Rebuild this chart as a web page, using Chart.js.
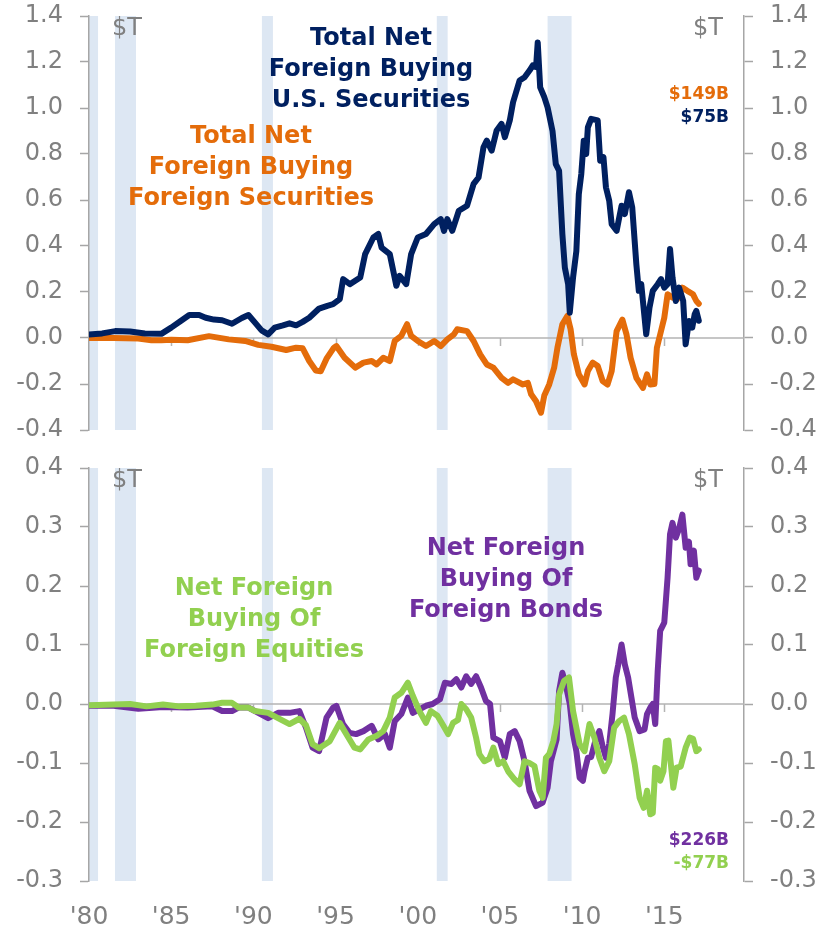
<!DOCTYPE html>
<html>
<head>
<meta charset="utf-8">
<script src="https://cdn.jsdelivr.net/npm/chart.js@4.4.1/dist/chart.umd.min.js"></script>
<style>
  html, body { margin: 0; padding: 0; background: #fff; }
  #wrap { position: relative; width: 823px; height: 927px; overflow: hidden; font-family: "DejaVu Sans", Verdana, sans-serif; }
  .cv { position: absolute; left: 0; }
  .lbl { position: absolute; font-weight: bold; font-size: 24px; line-height: 31px; text-align: center; white-space: nowrap; }
  .val { position: absolute; font-weight: bold; font-size: 17px; line-height: 22.5px; text-align: right; white-space: nowrap; }
  .unit { position: absolute; font-size: 24px; line-height: 24px; color: #808080; white-space: nowrap; }
</style>
</head>
<body>
<div id="wrap">
  <canvas id="top" class="cv" width="823" height="450" style="top:0px;width:823px;height:450px"></canvas>
  <canvas id="bot" class="cv" width="823" height="477" style="top:450px;width:823px;height:477px"></canvas>

  <div class="unit" style="left:112px;top:15px">$T</div>
  <div class="unit" style="right:100px;top:15px">$T</div>
  <div class="unit" style="left:112px;top:467px">$T</div>
  <div class="unit" style="right:100px;top:467px">$T</div>

  <div class="lbl" style="color:#002060;left:221px;width:300px;top:22px">Total Net<br>Foreign Buying<br>U.S. Securities</div>
  <div class="lbl" style="color:#E46C0A;left:101px;width:300px;top:120px">Total Net<br>Foreign Buying<br>Foreign Securities</div>
  <div class="lbl" style="color:#92D050;left:104px;width:300px;top:572px">Net Foreign<br>Buying Of<br>Foreign Equities</div>
  <div class="lbl" style="color:#7030A0;left:356px;width:300px;top:532px">Net Foreign<br>Buying Of<br>Foreign Bonds</div>

  <div class="val" style="right:94px;top:82px"><span style="color:#E46C0A">$149B</span><br><span style="color:#002060">$75B</span></div>
  <div class="val" style="right:94px;top:828px"><span style="color:#7030A0">$226B</span><br><span style="color:#92D050">-$77B</span></div>
</div>
<script>
// ---------------- DATA ----------------
const xTickYears = [1980, 1985, 1990, 1995, 2000, 2005, 2010, 2015];
const xTickLabels = ["'80", "'85", "'90", "'95", "'00", "'05", "'10", "'15"];
const topTicks = [-0.4, -0.2, 0.0, 0.2, 0.4, 0.6, 0.8, 1.0, 1.2, 1.4];
const botTicks = [-0.3, -0.2, -0.1, 0.0, 0.1, 0.2, 0.3, 0.4];
const recessionStarts = [1980.0, 1981.58, 1990.52, 2001.16, 2007.9];
const recessionEnds   = [1980.55, 1982.86, 1991.19, 2001.82, 2009.36];

// Total net foreign buying of U.S. securities ($T)
const usYears = [1980.0,1980.8,1981.6,1982.5,1983.4,1984.4,1985.0,1985.6,1986.1,1986.7,1987.1,1987.6,1988.1,1988.7,1989.3,1989.7,1990.1,1990.5,1990.9,1991.3,1991.8,1992.2,1992.6,1993.0,1993.4,1994.0,1994.5,1994.85,1995.26,1995.46,1995.87,1996.5,1996.8,1997.3,1997.6,1997.8,1998.3,1998.7,1998.9,1999.3,1999.6,2000.0,2000.5,2001.0,2001.4,2001.6,2001.8,2002.1,2002.5,2003.0,2003.4,2003.7,2004.0,2004.2,2004.5,2004.8,2005.1,2005.3,2005.6,2005.8,2006.2,2006.5,2006.8,2007.0,2007.2,2007.3,2007.45,2007.7,2007.9,2008.2,2008.4,2008.6,2008.8,2008.95,2009.15,2009.25,2009.45,2009.65,2009.8,2009.95,2010.1,2010.25,2010.35,2010.55,2010.95,2011.1,2011.3,2011.45,2011.65,2011.8,2012.1,2012.4,2012.6,2012.85,2013.05,2013.3,2013.45,2013.6,2013.9,2014.1,2014.3,2014.6,2014.8,2015.0,2015.2,2015.35,2015.5,2015.7,2015.9,2016.15,2016.3,2016.5,2016.7,2016.85,2016.95,2017.1];
const usValues = [0.015,0.02,0.03,0.028,0.02,0.018,0.045,0.075,0.10,0.10,0.088,0.08,0.077,0.062,0.087,0.10,0.067,0.033,0.016,0.045,0.055,0.064,0.055,0.07,0.088,0.128,0.14,0.147,0.169,0.256,0.234,0.263,0.365,0.437,0.452,0.393,0.365,0.227,0.27,0.234,0.365,0.437,0.452,0.495,0.517,0.466,0.517,0.466,0.553,0.575,0.67,0.698,0.829,0.858,0.815,0.902,0.931,0.873,0.946,1.025,1.12,1.134,1.163,1.185,1.178,1.285,1.09,1.047,1.003,0.90,0.756,0.727,0.451,0.306,0.234,0.11,0.263,0.378,0.626,0.713,0.858,0.80,0.916,0.953,0.946,0.771,0.786,0.655,0.597,0.495,0.466,0.575,0.539,0.634,0.568,0.321,0.205,0.234,0.016,0.132,0.205,0.234,0.256,0.219,0.234,0.387,0.263,0.161,0.219,0.161,-0.027,0.074,0.045,0.103,0.118,0.075];

// Total net foreign buying of foreign securities ($T)
const fsYears = [1980.0,1981.5,1983.0,1983.8,1984.4,1985.0,1986.0,1987.3,1988.5,1989.5,1990.3,1991.1,1992.0,1992.6,1993.0,1993.4,1993.8,1994.1,1994.45,1994.9,1995.05,1995.55,1996.2,1996.7,1997.2,1997.5,1997.9,1998.3,1998.6,1999.0,1999.35,1999.6,2000.0,2000.5,2001.0,2001.4,2001.8,2002.2,2002.4,2003.0,2003.4,2003.8,2004.2,2004.6,2005.1,2005.5,2005.8,2006.4,2006.7,2006.9,2007.2,2007.5,2007.7,2008.0,2008.3,2008.5,2008.8,2009.1,2009.3,2009.5,2009.8,2010.15,2010.35,2010.65,2010.95,2011.25,2011.55,2011.8,2012.1,2012.45,2012.7,2012.95,2013.3,2013.7,2013.95,2014.15,2014.4,2014.55,2014.8,2015.0,2015.2,2015.5,2015.8,2016.1,2016.4,2016.75,2016.95,2017.1];
const fsValues = [0.0,0.0,-0.002,-0.01,-0.01,-0.008,-0.01,0.008,-0.006,-0.013,-0.03,-0.038,-0.052,-0.042,-0.045,-0.10,-0.141,-0.145,-0.09,-0.042,-0.035,-0.086,-0.129,-0.107,-0.10,-0.115,-0.086,-0.10,-0.013,0.009,0.06,0.009,-0.013,-0.035,-0.013,-0.035,-0.006,0.016,0.038,0.03,-0.013,-0.071,-0.115,-0.129,-0.173,-0.195,-0.18,-0.202,-0.195,-0.245,-0.275,-0.325,-0.25,-0.202,-0.129,-0.042,0.06,0.096,0.038,-0.071,-0.158,-0.202,-0.144,-0.107,-0.122,-0.187,-0.202,-0.144,0.03,0.08,0.016,-0.086,-0.173,-0.217,-0.158,-0.202,-0.20,-0.042,0.03,0.088,0.19,0.176,0.17,0.219,0.205,0.19,0.161,0.149];

// Net foreign buying of foreign bonds ($T)
const bondYears = [1980.0,1981.5,1983.0,1984.5,1986.0,1987.5,1988.1,1988.7,1989.1,1989.7,1990.1,1990.9,1991.5,1992.2,1992.8,1993.2,1993.6,1994.0,1994.45,1994.85,1995.05,1995.45,1995.85,1996.25,1996.7,1997.2,1997.6,1998.0,1998.3,1998.6,1999.0,1999.4,1999.7,2000.1,2000.5,2000.9,2001.35,2001.65,2002.05,2002.35,2002.65,2002.95,2003.25,2003.55,2003.85,2004.15,2004.4,2004.6,2005.0,2005.3,2005.6,2005.9,2006.2,2006.5,2006.8,2007.2,2007.6,2007.9,2008.1,2008.45,2008.6,2008.8,2009.0,2009.25,2009.45,2009.65,2009.85,2010.05,2010.15,2010.35,2010.55,2010.75,2011.05,2011.25,2011.45,2011.65,2011.85,2012.05,2012.2,2012.4,2012.6,2012.8,2013.0,2013.2,2013.5,2013.8,2013.95,2014.15,2014.3,2014.45,2014.6,2014.75,2015.0,2015.2,2015.35,2015.5,2015.7,2015.9,2016.1,2016.3,2016.5,2016.6,2016.8,2016.95,2017.1];
const bondValues = [-0.003,-0.003,-0.008,-0.005,-0.006,-0.004,-0.012,-0.012,-0.006,-0.006,-0.012,-0.024,-0.015,-0.015,-0.012,-0.04,-0.074,-0.08,-0.023,-0.006,-0.003,-0.034,-0.049,-0.051,-0.046,-0.037,-0.06,-0.051,-0.074,-0.029,-0.017,0.011,-0.015,-0.009,-0.003,0.0,0.008,0.036,0.034,0.042,0.028,0.047,0.034,0.047,0.028,0.005,0.0,-0.057,-0.063,-0.091,-0.051,-0.046,-0.063,-0.097,-0.147,-0.173,-0.167,-0.142,-0.097,-0.06,0.022,0.053,0.033,0.0,-0.051,-0.08,-0.125,-0.13,-0.114,-0.091,-0.09,-0.068,-0.046,-0.072,-0.091,-0.068,-0.017,0.045,0.067,0.101,0.067,0.045,0.011,-0.023,-0.046,-0.043,-0.017,-0.006,0.0,-0.034,0.056,0.124,0.138,0.214,0.288,0.307,0.282,0.297,0.321,0.265,0.275,0.237,0.26,0.214,0.226];

// Net foreign buying of foreign equities ($T)
const eqYears = [1980.0,1981.5,1982.5,1983.5,1984.5,1985.5,1986.5,1987.5,1988.1,1988.7,1989.1,1989.7,1990.1,1990.9,1991.5,1992.2,1992.8,1993.2,1993.6,1994.0,1994.65,1995.25,1995.65,1996.15,1996.5,1997.0,1997.5,1997.9,1998.3,1998.6,1999.0,1999.4,1999.7,2000.1,2000.5,2000.8,2001.2,2001.5,2001.85,2002.15,2002.45,2002.65,2002.95,2003.25,2003.55,2003.75,2004.05,2004.35,2004.6,2004.9,2005.2,2005.5,2005.9,2006.2,2006.5,2006.8,2007.1,2007.4,2007.6,2007.8,2008.0,2008.25,2008.45,2008.6,2008.9,2009.2,2009.45,2009.65,2009.85,2010.15,2010.45,2010.75,2011.05,2011.35,2011.65,2011.95,2012.25,2012.55,2012.85,2013.2,2013.5,2013.75,2013.95,2014.15,2014.3,2014.45,2014.6,2014.75,2014.95,2015.1,2015.25,2015.4,2015.55,2015.75,2016.0,2016.3,2016.55,2016.75,2016.95,2017.1];
const eqValues = [-0.002,-0.001,0.0,-0.004,-0.001,-0.004,-0.003,-0.001,0.002,0.002,-0.006,-0.006,-0.012,-0.015,-0.024,-0.034,-0.025,-0.036,-0.068,-0.075,-0.063,-0.032,-0.051,-0.074,-0.077,-0.06,-0.054,-0.046,-0.023,0.011,0.019,0.036,0.014,-0.012,-0.032,-0.012,-0.02,-0.034,-0.051,-0.032,-0.027,0.0,-0.009,-0.023,-0.057,-0.085,-0.097,-0.093,-0.074,-0.102,-0.097,-0.114,-0.128,-0.136,-0.097,-0.10,-0.105,-0.147,-0.159,-0.091,-0.085,-0.063,-0.034,0.016,0.039,0.045,-0.012,-0.04,-0.068,-0.08,-0.034,-0.057,-0.091,-0.114,-0.097,-0.04,-0.029,-0.023,-0.051,-0.102,-0.159,-0.176,-0.147,-0.187,-0.185,-0.108,-0.11,-0.13,-0.114,-0.063,-0.062,-0.102,-0.142,-0.108,-0.106,-0.074,-0.057,-0.059,-0.08,-0.077];

// ---------------- STYLE ----------------
const X_MIN = 1980, X_MAX = 2019.85;
const AXIS_GRAY = '#a6a6a6';
const ZERO_GRAY = '#b4b4b4';
const TICK_FONT = { family: '"DejaVu Sans", Verdana, sans-serif', size: 24 };
const X_FONT = { family: '"DejaVu Sans", Verdana, sans-serif', size: 25 };
const TICK_COLOR = '#808080';

function pts(xs, ys) { return xs.map((x, i) => ({ x: x, y: ys[i] })); }
function lineDs(label, xs, ys, color, w) {
  return { label: label, data: pts(xs, ys), borderColor: color, backgroundColor: color,
           borderWidth: w, pointRadius: 0, tension: 0, borderJoinStyle: 'round', borderCapStyle: 'round', fill: false };
}

const backdropPlugin = {
  id: 'backdrop',
  beforeDraw(chart) {
    const { ctx, chartArea, scales } = chart;
    ctx.save();
    ctx.fillStyle = '#dde7f3';
    for (let i = 0; i < recessionStarts.length; i++) {
      const x1 = scales.x.getPixelForValue(recessionStarts[i]);
      const x2 = scales.x.getPixelForValue(recessionEnds[i]);
      ctx.fillRect(x1, chartArea.top, x2 - x1, chartArea.bottom - chartArea.top);
    }
    ctx.restore();
  },
  beforeDatasetsDraw(chart) {
    const { ctx, chartArea, scales } = chart;
    const y0 = scales.y.getPixelForValue(0);
    ctx.save();
    ctx.strokeStyle = ZERO_GRAY;
    ctx.lineWidth = 1.5;
    ctx.beginPath();
    ctx.moveTo(chartArea.left, y0);
    ctx.lineTo(chartArea.right, y0);
    xTickYears.forEach(v => {
      if (v === X_MIN) return;
      const px = Math.round(scales.x.getPixelForValue(v)) + 0.5;
      ctx.moveTo(px, y0);
      ctx.lineTo(px, y0 + 8);
    });
    ctx.stroke();
    ctx.restore();
  }
};

function yAxis(pos, ticks, width) {
  return {
    type: 'linear', position: pos, min: ticks[0], max: ticks[ticks.length - 1],
    afterBuildTicks: s => { s.ticks = ticks.map(v => ({ value: v })); },
    afterFit: s => { s.width = width; s.paddingTop = 0; s.paddingBottom = 0; },
    ticks: { font: TICK_FONT, color: TICK_COLOR, padding: 17,
             callback: v => (Math.abs(v) < 1e-9 ? 0 : v).toFixed(1) },
    grid: { drawOnChartArea: false, drawTicks: true, tickLength: 9, tickColor: AXIS_GRAY, tickWidth: 1.5 },
    border: { display: true, color: AXIS_GRAY, width: 1.5 }
  };
}

function makeChart(id, datasets, ticks, showX, padTop, padBottom) {
  return new Chart(document.getElementById(id), {
    type: 'line',
    data: { datasets: datasets },
    plugins: [backdropPlugin],
    options: {
      responsive: false, animation: false, devicePixelRatio: 1,
      layout: { padding: { top: padTop, bottom: padBottom, left: 0, right: 0 } },
      plugins: { legend: { display: false }, tooltip: { enabled: false } },
      scales: {
        x: {
          type: 'linear', min: X_MIN, max: X_MAX, display: showX,
          afterBuildTicks: s => { s.ticks = xTickYears.map(v => ({ value: v })); },
          afterFit: s => { s.height = showX ? 46 : 0; s.paddingLeft = 0; s.paddingRight = 0; },
          ticks: { font: X_FONT, color: TICK_COLOR, padding: 13, maxRotation: 0, autoSkip: false,
                   callback: (v) => { const i = xTickYears.indexOf(v); return i >= 0 ? xTickLabels[i] : ''; } },
          grid: { display: false },
          border: { display: false }
        },
        y: yAxis('left', ticks, 89),
        y2: yAxis('right', ticks, 79)
      }
    }
  });
}

makeChart('top', [
  lineDs('Total Net Foreign Buying U.S. Securities', usYears, usValues, '#002060', 6),
  lineDs('Total Net Foreign Buying Foreign Securities', fsYears, fsValues, '#E46C0A', 6)
], topTicks, false, 16, 20);

makeChart('bot', [
  lineDs('Net Foreign Buying Of Foreign Equities', eqYears, eqValues, '#92D050', 6),
  lineDs('Net Foreign Buying Of Foreign Bonds', bondYears, bondValues, '#7030A0', 6)
], botTicks, true, 18, 0);
</script>
</body>
</html>
